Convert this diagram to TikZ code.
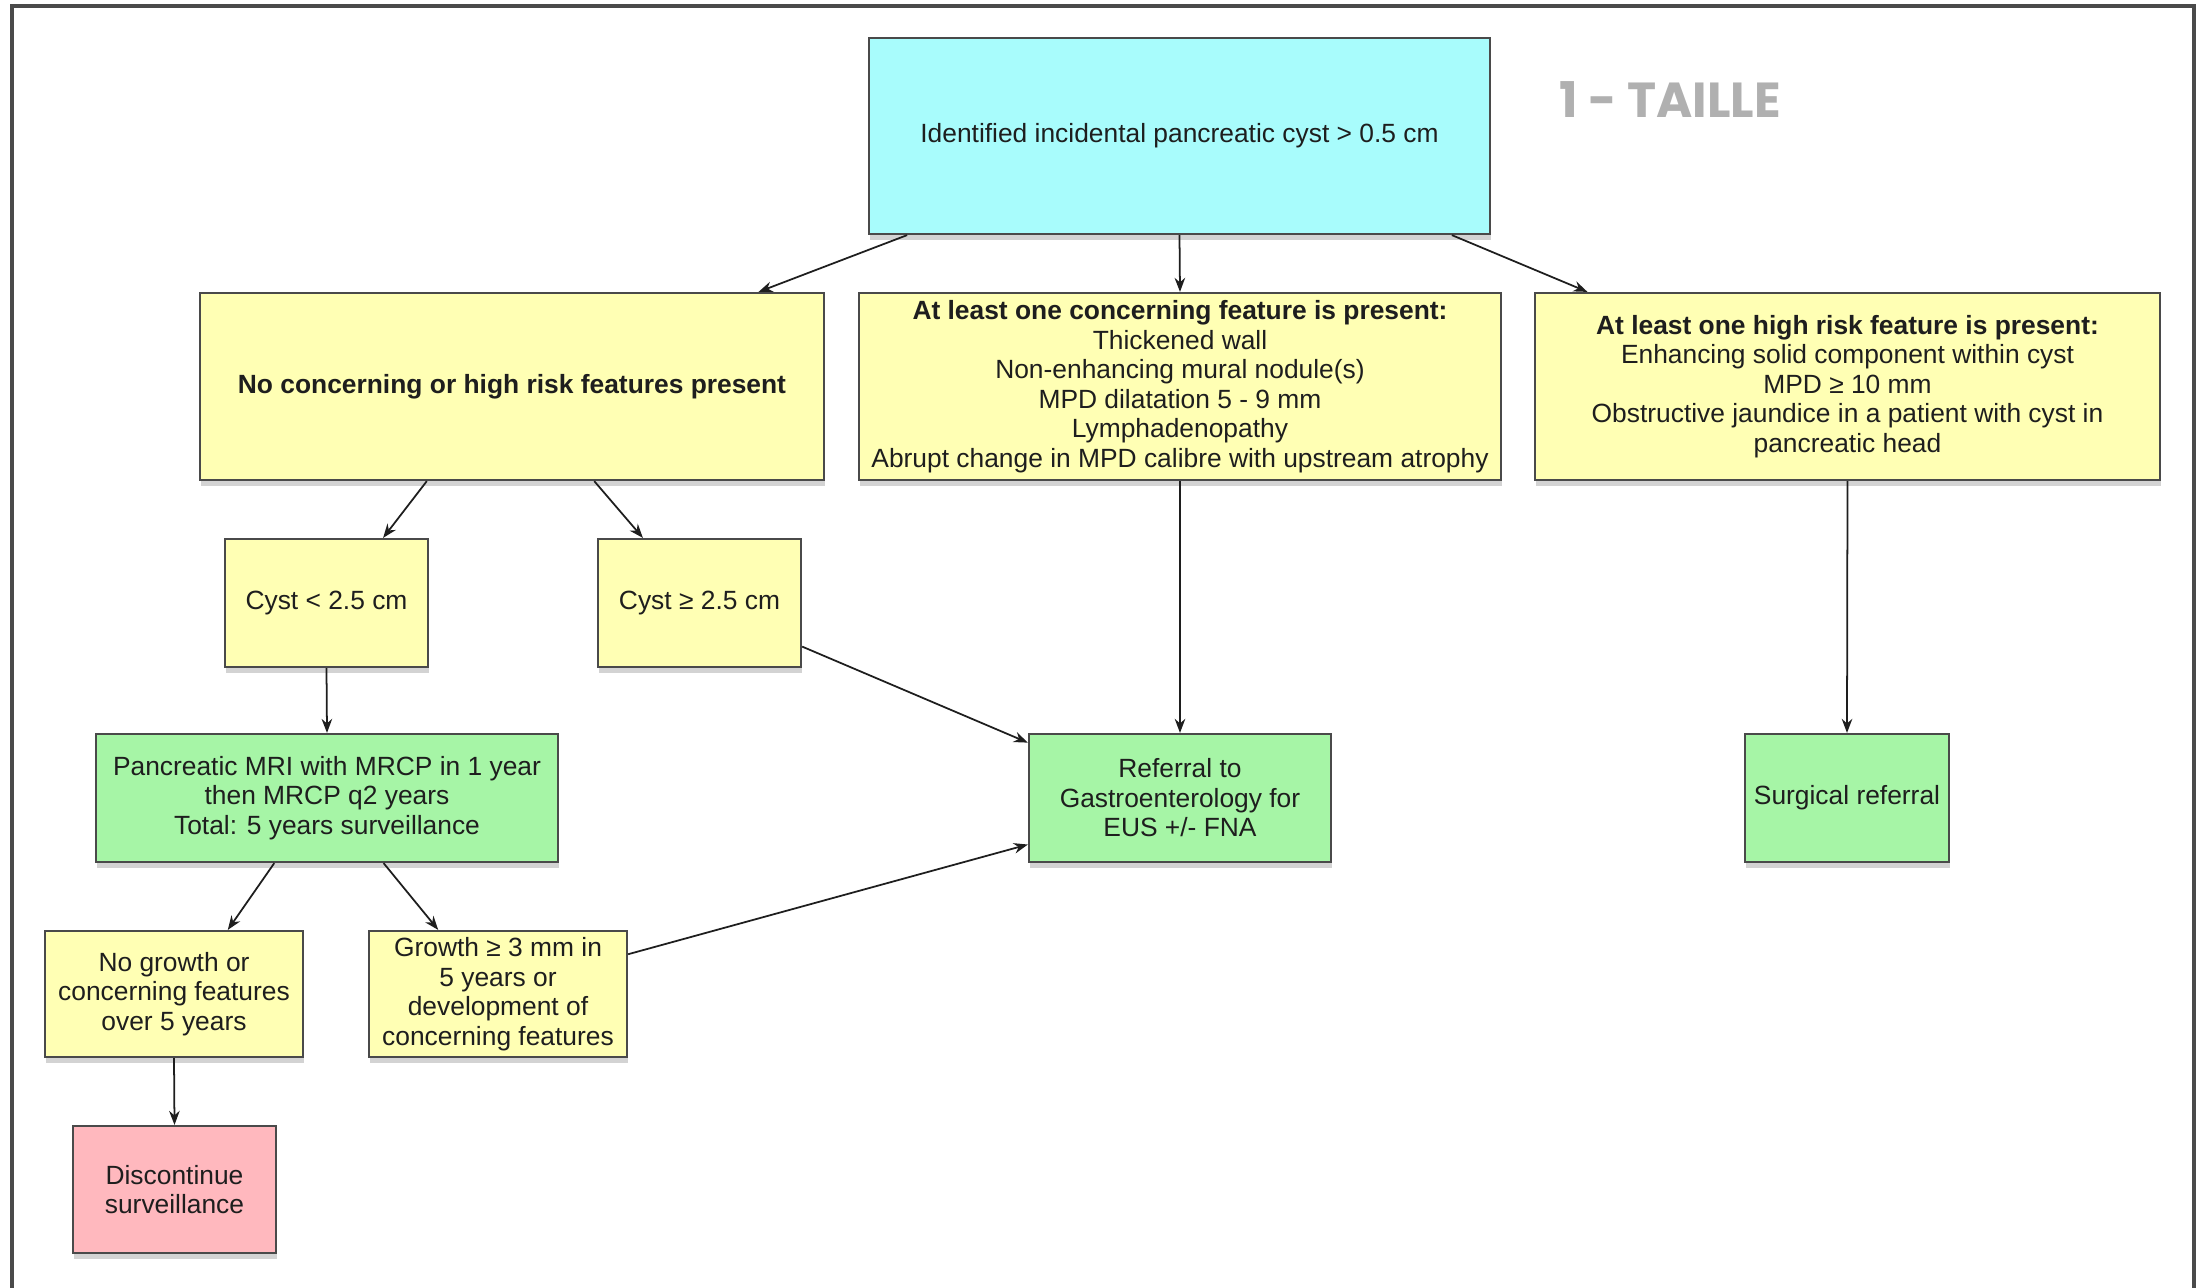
\documentclass[tikz,border=0pt]{standalone}
\usepackage{fontspec}
\setmainfont{Liberation Sans}
\newfontfamily\titlefont{Poppins}
\usetikzlibrary{arrows.meta,shadows}
\definecolor{boxcyan}{HTML}{A8FCFC}
\definecolor{boxyellow}{HTML}{FFFFB4}
\definecolor{boxgreen}{HTML}{A6F5A6}
\definecolor{boxpink}{HTML}{FFB8BE}
\definecolor{boxline}{HTML}{4A4A4A}
\definecolor{textdark}{HTML}{1E1E1E}
\definecolor{titlegray}{HTML}{B0B0B0}

\begin{document}
\begin{tikzpicture}[x=0.01cm,y=-0.01cm,
  flowbox/.style={draw=boxline,line width=0.6pt,align=center,inner sep=1pt,
    font=\fontsize{7.5}{8.4}\selectfont,text=textdark,
    drop shadow={shadow xshift=0.3pt,shadow yshift=-1.8pt,opacity=0.35}},
  cyanbox/.style={flowbox,fill=boxcyan},
  yellowbox/.style={flowbox,fill=boxyellow},
  greenbox/.style={flowbox,fill=boxgreen},
  pinkbox/.style={flowbox,fill=boxpink},
  flow/.style={-{Stealth[length=4pt,width=3pt]},line width=0.5pt,draw=textdark}]
  \useasboundingbox (0,0) rectangle (2208,1287);
  \draw[line width=0.9pt,draw=boxline] (12,1290) -- (12,6) -- (2194,6) -- (2194,1290);
  % top row
  \node[cyanbox,minimum width=6.21cm,minimum height=1.96cm] (cyst) at (1179.5,136) {Identified incidental pancreatic cyst > 0.5 cm};
  \node[font=\titlefont\bfseries\fontsize{14}{14}\selectfont,text=titlegray] (taille) at (1670,100) {1 - TAILLE};
  % features
  \node[yellowbox,minimum width=6.24cm,minimum height=1.87cm] (nofeat) at (512,386.5) {\textbf{No concerning or high risk features present}};
  \node[yellowbox,minimum width=6.42cm,minimum height=1.87cm] (concern) at (1180,386.5) {\textbf{At least one concerning feature is present:}\\Thickened wall\\Non-enhancing mural nodule(s)\\MPD dilatation 5 - 9 mm\\Lymphadenopathy\\Abrupt change in MPD calibre with upstream atrophy};
  \node[yellowbox,minimum width=6.25cm,minimum height=1.87cm] (highrisk) at (1847.5,386.5) {\textbf{At least one high risk feature is present:}\\Enhancing solid component within cyst\\MPD ≥ 10 mm\\Obstructive jaundice in a patient with cyst in\\pancreatic head};
  % size
  \node[yellowbox,minimum width=2.03cm,minimum height=1.28cm] (small) at (326.5,603) {Cyst < 2.5 cm};
  \node[yellowbox,minimum width=2.03cm,minimum height=1.28cm] (large) at (699.5,603) {Cyst ≥ 2.5 cm};
  % management
  \node[greenbox,minimum width=4.62cm,minimum height=1.28cm] (mri) at (327,798) {Pancreatic MRI with MRCP in 1 year\\then MRCP q2 years\\Total: 5 years surveillance};
  \node[greenbox,minimum width=3.02cm,minimum height=1.28cm] (eus) at (1180,798) {Referral to\\Gastroenterology for\\EUS +/- FNA};
  \node[greenbox,minimum width=2.04cm,minimum height=1.28cm] (surgery) at (1847,798) {Surgical referral};
  % follow-up
  \node[yellowbox,minimum width=2.58cm,minimum height=1.26cm] (stable) at (174,994) {No growth or\\concerning features\\over 5 years};
  \node[yellowbox,minimum width=2.58cm,minimum height=1.26cm] (growth) at (498,994) {Growth ≥ 3 mm in\\5 years or\\development of\\concerning features};
  \node[pinkbox,minimum width=2.03cm,minimum height=1.27cm] (stop) at (174.5,1189.5) {Discontinue\\surveillance};
  % arrows
  \draw[flow] (cyst.-160) -- (nofeat.21);
  \draw[flow] (cyst.south) -- (concern.north);
  \draw[flow] (cyst.-20) -- (highrisk.160);
  \draw[flow] (nofeat.-132) -- (small.49);
  \draw[flow] (nofeat.-49) -- (large.131);
  \draw[flow] (small.south) -- (mri.north);
  \draw[flow] (large.-23) -- (eus.160);
  \draw[flow] (concern.south) -- (eus.north);
  \draw[flow] (highrisk.south) -- (surgery.north);
  \draw[flow] (mri.-129) -- (stable.50);
  \draw[flow] (mri.-49) -- (growth.133);
  \draw[flow] (growth.17) -- (eus.-163);
  \draw[flow] (stable.south) -- (stop.north);
\end{tikzpicture}
\end{document}
